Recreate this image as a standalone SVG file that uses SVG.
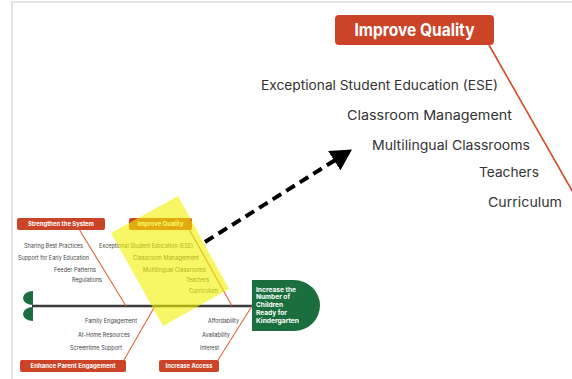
<svg xmlns="http://www.w3.org/2000/svg" width="572" height="379" viewBox="0 0 572 379">
  <style>
    .big { font-family: Inter, "Noto Sans", "Liberation Sans", sans-serif; font-size: 13px; fill: #333; text-anchor: end; }
    .lbl { font-family: Inter, "Noto Sans", "Liberation Sans", sans-serif; font-size: 5.6px; fill: #444; text-anchor: end; }
    .boxtxt { font-family: Inter, "Noto Sans", "Liberation Sans", sans-serif; font-weight: 700; fill: #fff; text-anchor: middle; }
    .headtxt { font-family: Inter, "Noto Sans", "Liberation Sans", sans-serif; font-weight: 700; font-size: 6.8px; fill: #fff; }
    .cat { fill: #cb4428; }
    .bone { stroke: #e0633f; stroke-width: 1.1; fill: none; }
  </style>
  <defs>
    <marker id="arrowHead" viewBox="0 0 21 23" refX="21" refY="11.5" markerWidth="21" markerHeight="23" markerUnits="userSpaceOnUse" orient="auto">
      <path d="M0,0 L21,11.5 L0,23 Z" fill="#000"/>
    </marker>
  </defs>

  <rect width="572" height="379" fill="#fff"/>
  <!-- page frame -->
  <path d="M12,379 V2 H572" fill="none" stroke="#dcdcdc" stroke-width="1.5"/>

  <!-- enlarged category: Improve Quality -->
  <g id="improve-quality-large">
    <rect x="335" y="15" width="159" height="30" rx="4" class="cat"/>
    <text x="414.5" y="36" class="boxtxt" font-size="17" textLength="120" lengthAdjust="spacingAndGlyphs">Improve Quality</text>
    <path d="M489,45 L575,196" stroke="#d2492a" stroke-width="1.6" fill="none"/>
    <text x="498" y="89.5" class="big" textLength="237" lengthAdjust="spacingAndGlyphs">Exceptional Student Education (ESE)</text>
    <text x="512" y="120" class="big" textLength="165" lengthAdjust="spacingAndGlyphs">Classroom Management</text>
    <text x="530" y="150" class="big" textLength="158" lengthAdjust="spacingAndGlyphs">Multilingual Classrooms</text>
    <text x="539" y="177" class="big" textLength="60" lengthAdjust="spacingAndGlyphs">Teachers</text>
    <text x="562" y="206.5" class="big" textLength="74" lengthAdjust="spacingAndGlyphs">Curriculum</text>
  </g>

  <!-- fishbone connectors -->
  <g id="connectors">
    <line x1="32" y1="306" x2="253" y2="306" stroke="#3a3a3a" stroke-width="2.4"/>
    <line x1="79" y1="229" x2="126" y2="306" class="bone"/>
    <line x1="189" y1="229" x2="232" y2="306" class="bone"/>
    <line x1="124" y1="360" x2="155" y2="306" class="bone"/>
    <line x1="218" y1="360" x2="252" y2="306" class="bone"/>
  </g>

  <!-- tail -->
  <g id="tail">
    <path d="M33,291 A10,7 0 0 0 33,305 Z" fill="#1b6e3e"/>
    <path d="M33,307 A10,7 0 0 0 33,321 Z" fill="#1b6e3e"/>
  </g>

  <!-- head: outcome -->
  <g id="head">
    <path d="M252,280 H294 A26,25.5 0 0 1 294,331 H252 Z" fill="#1b6e3e"/>
    <text x="256" y="291.5" class="headtxt" textLength="40" lengthAdjust="spacingAndGlyphs">Increase the</text>
    <text x="256" y="299.3" class="headtxt" textLength="34" lengthAdjust="spacingAndGlyphs">Number of</text>
    <text x="256" y="307.1" class="headtxt" textLength="27" lengthAdjust="spacingAndGlyphs">Children</text>
    <text x="256" y="314.9" class="headtxt" textLength="31" lengthAdjust="spacingAndGlyphs">Ready for</text>
    <text x="256" y="322.7" class="headtxt" textLength="43" lengthAdjust="spacingAndGlyphs">Kindergarten</text>
  </g>

  <g id="strengthen-system">
    <rect x="17" y="218" width="88" height="12" rx="2" class="cat"/>
    <text x="61" y="226" class="boxtxt" font-size="6" textLength="66" lengthAdjust="spacingAndGlyphs">Strengthen the System</text>
    <text x="83" y="248" class="lbl" textLength="59" lengthAdjust="spacingAndGlyphs">Sharing Best Practices</text>
    <text x="89" y="260" class="lbl" textLength="71" lengthAdjust="spacingAndGlyphs">Support for Early Education</text>
    <text x="96" y="272" class="lbl" textLength="42" lengthAdjust="spacingAndGlyphs">Feeder Patterns</text>
    <text x="102" y="282" class="lbl" textLength="30" lengthAdjust="spacingAndGlyphs">Regulations</text>
  </g>

  <g id="improve-quality">
    <rect x="129" y="218" width="63" height="12" rx="2" class="cat"/>
    <text x="160.5" y="226" class="boxtxt" font-size="6" textLength="46" lengthAdjust="spacingAndGlyphs">Improve Quality</text>
    <text x="193" y="248" class="lbl" textLength="94" lengthAdjust="spacingAndGlyphs">Exceptional Student Education (ESE)</text>
    <text x="199" y="260" class="lbl" textLength="66" lengthAdjust="spacingAndGlyphs">Classroom Management</text>
    <text x="206" y="272" class="lbl" textLength="63" lengthAdjust="spacingAndGlyphs">Multilingual Classrooms</text>
    <text x="209" y="282" class="lbl" textLength="23" lengthAdjust="spacingAndGlyphs">Teachers</text>
    <text x="218" y="293" class="lbl" textLength="29" lengthAdjust="spacingAndGlyphs">Curriculum</text>
  </g>

  <g id="enhance-parent-engagement">
    <rect x="20" y="360" width="106" height="12" rx="2" class="cat"/>
    <text x="73" y="368" class="boxtxt" font-size="6" textLength="85" lengthAdjust="spacingAndGlyphs">Enhance Parent Engagement</text>
    <text x="137" y="323" class="lbl" textLength="52" lengthAdjust="spacingAndGlyphs">Family Engagement</text>
    <text x="130" y="337" class="lbl" textLength="52" lengthAdjust="spacingAndGlyphs">At-Home Resources</text>
    <text x="122" y="350" class="lbl" textLength="52" lengthAdjust="spacingAndGlyphs">Screentime Support</text>
  </g>

  <g id="increase-access">
    <rect x="159" y="360" width="60" height="12" rx="2" class="cat"/>
    <text x="189" y="368" class="boxtxt" font-size="6" textLength="47" lengthAdjust="spacingAndGlyphs">Increase Access</text>
    <text x="239" y="323" class="lbl" textLength="31" lengthAdjust="spacingAndGlyphs">Affordability</text>
    <text x="230" y="337" class="lbl" textLength="28" lengthAdjust="spacingAndGlyphs">Availability</text>
    <text x="219" y="350" class="lbl" textLength="19" lengthAdjust="spacingAndGlyphs">Interest</text>
  </g>

  <!-- highlighter over the small Improve Quality branch -->
  <polygon id="highlight" points="111,233 178,196 229,289 163,326" fill="#f2f200" fill-opacity="0.6"/>

  <!-- zoom pointer -->
  <g id="pointer">
    <line x1="205" y1="242" x2="352" y2="149.5" stroke="#000" stroke-width="4" stroke-dasharray="10 6" marker-end="url(#arrowHead)"/>
  </g>
</svg>
